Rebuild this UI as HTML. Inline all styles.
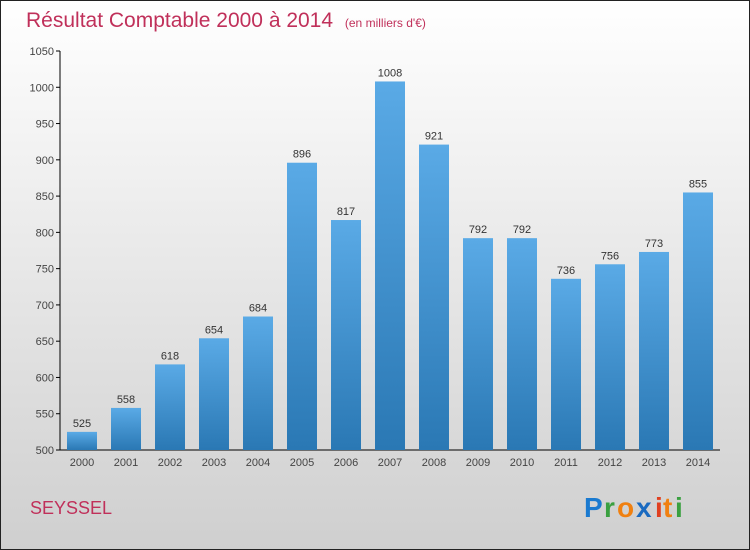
<!DOCTYPE html>
<html><head><meta charset="utf-8"><style>
body{margin:0;}
#c{width:750px;height:550px;position:relative;overflow:hidden;}
svg text{font-family:"Liberation Sans",sans-serif;}
</style></head><body>
<div id="c">
<svg id="s" width="750" height="550" xmlns="http://www.w3.org/2000/svg">
<defs>
<linearGradient id="bg" x1="0" y1="0" x2="0" y2="1"><stop offset="0" stop-color="#ffffff"/><stop offset="1" stop-color="#cfcfcf"/></linearGradient>
<linearGradient id="bar" x1="0" y1="0" x2="0" y2="1"><stop offset="0" stop-color="#5aaae6"/><stop offset="1" stop-color="#2a78b4"/></linearGradient>
</defs>
<rect x="0.5" y="0.5" width="749" height="549" fill="url(#bg)" stroke="#222"/>
<text x="26" y="27" font-size="21" fill="#c0305a">Résultat Comptable 2000 à 2014 <tspan font-size="12" dx="6">(en milliers d'€)</tspan></text>
<g id="yaxis"></g><g id="bars"></g>
<text x="30" y="514" font-size="18" fill="#c0305a">SEYSSEL</text>
<g font-size="28" font-weight="bold">
<text x="584" y="517" fill="#1a7ad0">P</text><text x="604" y="517" fill="#3aa040">r</text><text x="617" y="517" fill="#f08010">o</text><text x="636" y="517" fill="#1a6ac0">x</text><text x="655" y="517" fill="#e04020">i</text><text x="663" y="517" fill="#f08010">t</text><text x="675" y="517" fill="#3aa040">i</text>
</g>
</svg></div>
<script>
const categories=["2000","2001","2002","2003","2004","2005","2006","2007","2008","2009","2010","2011","2012","2013","2014"];
const values=[525,558,618,654,684,896,817,1008,921,792,792,736,756,773,855];
const yTicks=[500,550,600,650,700,750,800,850,900,950,1000,1050];
const NS="http://www.w3.org/2000/svg";
const y=v=>450-(v-500)*(399/550);
const x=i=>82+i*44;
function mk(t,a,p){const e=document.createElementNS(NS,t);for(const k in a)e.setAttribute(k,a[k]);p.appendChild(e);return e;}
const ya=document.getElementById('yaxis'),bs=document.getElementById('bars');
const ax=mk('line',{x1:60,y1:y(1050),x2:60,y2:450,stroke:'#000'},ya);


const xa=mk('line',{x1:60,y1:450,x2:720,y2:450,stroke:'#000'},ya);


yTicks.forEach(t=>{
 mk('line',{x1:56,x2:60,y1:y(t),y2:y(t),stroke:'#000'},ya);
 const tx=mk('text',{x:54,y:y(t)+4,'font-size':11,'text-anchor':'end',fill:'#444'},ya);tx.textContent=t;
 
 
});
categories.forEach((c,i)=>{
 const r=mk('rect',{x:x(i)-15,y:y(values[i]),width:30,height:450-y(values[i]),fill:'url(#bar)'},bs);
 
 
 const v=mk('text',{x:x(i),y:y(values[i])-5,'font-size':11,'text-anchor':'middle',fill:'#333'},bs);v.textContent=values[i];
 
 
 const l=mk('text',{x:x(i),y:466,'font-size':11,'text-anchor':'middle',fill:'#444'},bs);l.textContent=c;
 
 
});
</script>
</body></html>
